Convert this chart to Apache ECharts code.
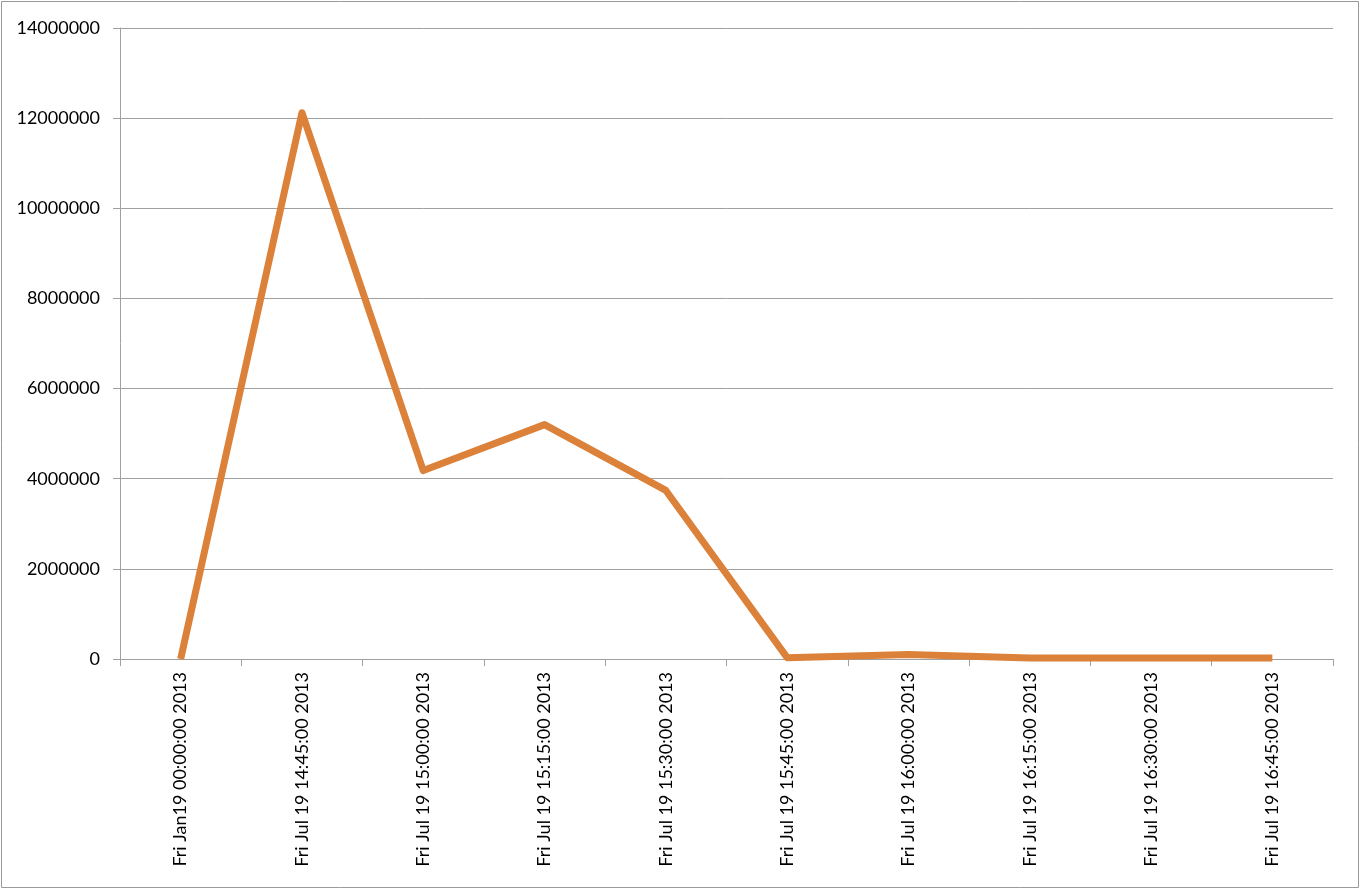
<!DOCTYPE html>
<html>
<head>
<meta charset="utf-8">
<script src="https://cdn.jsdelivr.net/npm/echarts@6/dist/echarts.min.js"></script>
<style>
html,body{margin:0;padding:0;background:#fff;}
#chart{width:1361px;height:890px;}
</style>
</head>
<body>
<div id="chart"></div>
<script>
const categories = [
  'Fri Jan19 00:00:00 2013',
  'Fri Jul 19 14:45:00 2013',
  'Fri Jul 19 15:00:00 2013',
  'Fri Jul 19 15:15:00 2013',
  'Fri Jul 19 15:30:00 2013',
  'Fri Jul 19 15:45:00 2013',
  'Fri Jul 19 16:00:00 2013',
  'Fri Jul 19 16:15:00 2013',
  'Fri Jul 19 16:30:00 2013',
  'Fri Jul 19 16:45:00 2013'
];
const values = [0, 12120000, 4180000, 5200000, 3740000, 30000, 100000, 20000, 20000, 20000];
const yMin = 0, yMax = 14000000, yStep = 2000000;

const chart = echarts.init(document.getElementById('chart'), null, {renderer: 'canvas'});
const axisGray = '#a0a0a0';
chart.setOption({
  backgroundColor: '#ffffff',
  animation: false,
  graphic: [{
    type: 'rect',
    shape: {x: 1.5, y: 1.5, width: 1357, height: 886},
    style: {fill: 'none', stroke: '#9a9a9a', lineWidth: 1}
  }],
  grid: {left: 120, right: 28, top: 28, bottom: 231, containLabel: false},
  xAxis: {
    type: 'category',
    data: categories,
    boundaryGap: true,
    axisLine: {show: true, lineStyle: {color: axisGray, width: 1}},
    axisTick: {show: true, alignWithLabel: false, length: 7, lineStyle: {color: axisGray}},
    axisLabel: {
      rotate: 90, margin: 13, color: '#000',
      fontFamily: 'Lato', fontSize: 18, interval: 0
    },
    splitLine: {show: false}
  },
  yAxis: {
    type: 'value',
    min: yMin, max: yMax, interval: yStep,
    axisLine: {show: true, lineStyle: {color: axisGray, width: 1}},
    axisTick: {show: true, length: 7, lineStyle: {color: axisGray}},
    axisLabel: {color: '#000', fontFamily: 'Lato', fontSize: 18, margin: 20,
      formatter: v => String(v)},
    splitLine: {show: true, lineStyle: {color: axisGray, width: 1}}
  },
  series: [{
    type: 'line',
    data: values,
    showSymbol: false,
    symbol: 'none',
    lineStyle: {color: '#dc8139', width: 7, join: 'round'},
    itemStyle: {color: '#dc8139'}
  }]
});
</script>
</body>
</html>
